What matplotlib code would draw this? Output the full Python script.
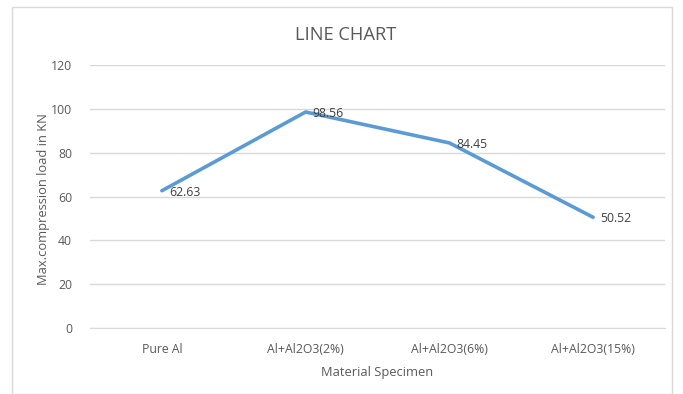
import matplotlib.pyplot as plt
from matplotlib.patches import Rectangle

categories = ["Pure Al", "Al+Al2O3(2%)", "Al+Al2O3(6%)", "Al+Al2O3(15%)"]
loads = [62.63, 98.56, 84.45, 50.52]
y_ticks = [0, 20, 40, 60, 80, 100, 120]

W, H = 683, 394
fig = plt.figure(figsize=(W / 100, H / 100), dpi=100)
plt.rcParams['font.family'] = ['Open Sans', 'DejaVu Sans']
text_color = "#595959"

# chart area border
fig.patches.append(Rectangle((12 / W, 0), (672 - 12) / W, (H - 7) / H,
                             transform=fig.transFigure, fill=False,
                             edgecolor="#d9d9d9", linewidth=1.0))

ax = fig.add_axes([90 / W, 1 - 328 / H, (665 - 90) / W, (328 - 65) / H])
x = list(range(len(categories)))
ax.plot(x, loads, color="#5B9BD5", linewidth=2.6, solid_capstyle="round",
        solid_joinstyle="round", zorder=3)
for xi, v in zip(x, loads):
    ax.annotate(f"{v:.2f}", (xi, v), xytext=(5, -1), textcoords="offset points",
                ha="left", va="center", fontsize=8.8, color="#404040")

ax.set_xlim(-0.5, len(categories) - 0.5)
ax.set_ylim(0, 120)
ax.set_yticks(y_ticks)
ax.set_xticks(x)
ax.set_xticklabels(categories)
ax.grid(axis="y", color="#d9d9d9", linewidth=1.0)
ax.set_axisbelow(True)
for s in ["top", "right", "left"]:
    ax.spines[s].set_visible(False)
ax.spines["bottom"].set_color("#d9d9d9")
ax.tick_params(axis="both", length=0, colors=text_color, labelsize=8.8)
ax.tick_params(axis="y", pad=13)
ax.tick_params(axis="x", pad=11)

ax.set_xlabel("Material Specimen", fontsize=9.3, color=text_color, labelpad=7)
ax.set_ylabel("Max.compression load in KN", fontsize=9.3, color=text_color,
              va="center")
ax.yaxis.set_label_coords((44 - 90) / (665 - 90), 0.49)
fig.text(346 / W, 1 - 35 / H, "LINE CHART", ha="center", va="center",
         fontsize=13.2, color=text_color)

fig.savefig("out.png", dpi=100)
